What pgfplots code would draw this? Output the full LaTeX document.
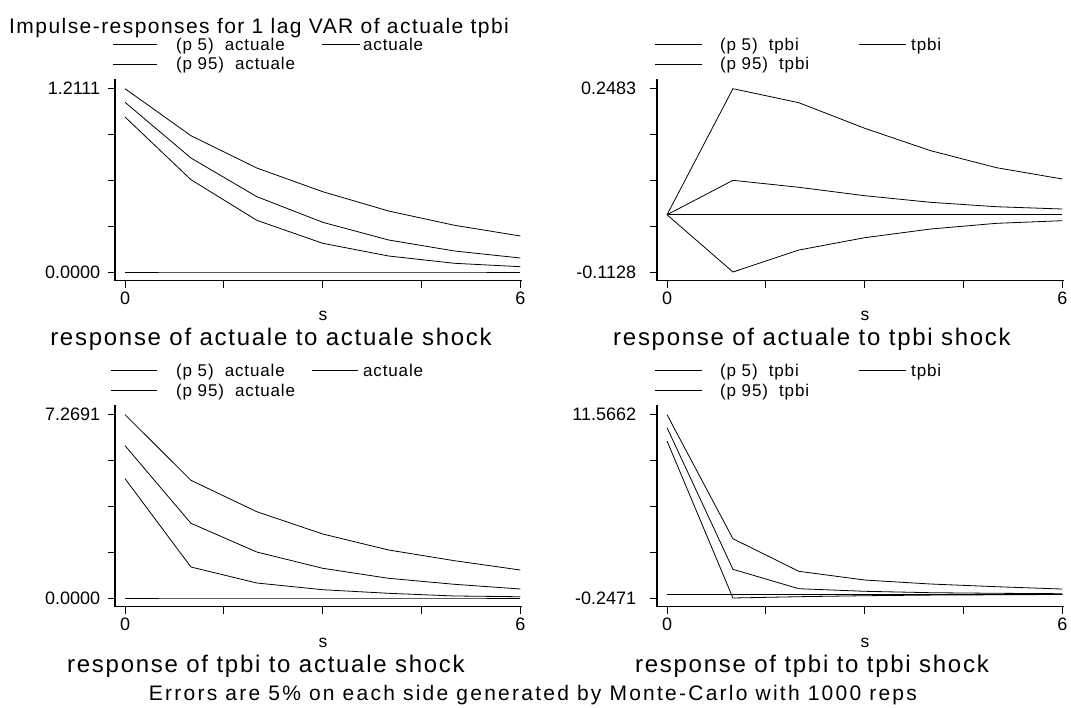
\documentclass[border=0pt]{standalone}
\usepackage{fontspec}
\setmainfont{Liberation Sans}
\newfontfamily\fA[LetterSpace=6.9]{Liberation Sans}
\newfontfamily\fB[LetterSpace=7.2]{Liberation Sans}
\newfontfamily\fC[LetterSpace=5]{Liberation Sans}
\newfontfamily\fD[LetterSpace=10.7]{Liberation Sans}
\usepackage{pgfplots}
\usepackage{pgfplotstable}
\pgfplotsset{compat=1.18}

\pgfplotstableread{
s lo mid hi z
0 1.024 1.121 1.2111 0
1 0.610 0.7532 0.9006 0
2 0.3414 0.4977 0.687 0
3 0.1896 0.3284 0.5306 0
4 0.1057 0.2114 0.403 0
5 0.0575 0.1388 0.3086 0
6 0.035 0.0925 0.2379 0
}\tabA
\pgfplotstableread{
s lo mid hi z
0 0 0 0 0
1 -0.1128 0.0678 0.2483 0
2 -0.0695 0.0541 0.2207 0
3 -0.0452 0.0375 0.1703 0
4 -0.0281 0.0245 0.1262 0
5 -0.0169 0.0158 0.0927 0
6 -0.0117 0.0113 0.0704 0
}\tabB
\pgfplotstableread{
s lo mid hi z
0 4.731 6.04 7.2691 0
1 1.229 2.962 4.668 0
2 0.595 1.824 3.422 0
3 0.329 1.178 2.538 0
4 0.186 0.781 1.904 0
5 0.08 0.543 1.479 0
6 0.05 0.357 1.110 0
}\tabC
\pgfplotstableread{
s lo mid hi z
0 9.871 10.728 11.5662 0
1 -0.2471 1.602 3.574 0
2 -0.163 0.352 1.473 0
3 -0.10 0.185 0.912 0
4 -0.06 0.095 0.654 0
5 -0.04 0.056 0.48 0
6 -0.02 0.03 0.33 0
}\tabD

\pgfplotsset{irf/.style={
  scale only axis, anchor=south west, width=407pt, height=201.4pt,
  axis x line*=bottom, axis y line*=left,
  axis line style={line width=1.1pt,-},
  every tick/.style={black, line width=0.9pt},
  tick align=outside, major tick length=7.3pt,
  xmin=-0.1525, xmax=6.025,
  xtick={0,1.5,3,4.5,6}, xticklabels={0,,,,6},
  tick label style={font=\fontsize{18}{18}\selectfont},
  yticklabel style={xshift=-4pt},
  clip=false,
  cycle list={{black, mark=none}},
  every axis plot post/.append style={black, line width=0.8pt, mark=none},
}}

% #1 key1 start, #2 row1 y, #3 name, #4 key2 start, #5 key2 end, #6 text2 x, #7 key1 end, #8 text1 x
\newcommand\myleg[8]{%
  \draw[line width=0.8pt] (#1pt,-#2pt) -- (#7pt,-#2pt);
  \draw[line width=0.8pt] (#1pt,-#2pt-19.5pt) -- (#7pt,-#2pt-19.5pt);
  \node[anchor=base west, inner sep=0pt] at (#8pt,-#2pt-6pt) {\fC\fontsize{17}{17}\selectfont (p 5)\ \ #3};
  \node[anchor=base west, inner sep=0pt] at (#8pt,-#2pt-25.5pt) {\fC\fontsize{17}{17}\selectfont (p 95)\ \ #3};
  \draw[line width=0.8pt] (#4pt,-#2pt) -- (#5pt,-#2pt);
  \node[anchor=base west, inner sep=0pt] at (#6pt,-#2pt-6pt) {\fC\fontsize{17}{17}\selectfont #3};
}

\begin{document}
\begin{tikzpicture}
\path[use as bounding box] (0pt,0pt) rectangle (1071pt,-708pt);

\node[anchor=base west, inner sep=0pt] at (9pt,-34pt) {\fA\fontsize{21}{21}\selectfont Impulse-responses for 1 lag VAR of actuale tpbi};

\myleg{113}{44.5}{actuale}{322}{360}{363}{157}{176}
\myleg{655}{44.5}{tpbi}{859}{906}{911}{702}{720}
\myleg{111}{370.7}{actuale}{312}{358}{363}{157}{176}
\myleg{655}{370.7}{tpbi}{859}{906}{911}{702}{720}

% panel 1
\begin{axis}[irf, at={(115pt,-280.7pt)},
  ymin=-0.0575, ymax=1.2732,
  ytick={0,0.302775,0.60555,0.908325,1.2111}, yticklabels={0.0000,,,,1.2111}]
\addplot table[x=s,y=lo]{\tabA};
\addplot table[x=s,y=mid]{\tabA};
\addplot table[x=s,y=hi]{\tabA};
\addplot table[x=s,y=z]{\tabA};
\end{axis}

% panel 2
\begin{axis}[irf, at={(657pt,-280.7pt)},
  ymin=-0.1299, ymax=0.2668,
  yticklabel style={xshift=-6pt},
  ytick={-0.1128,-0.022525,0.06775,0.158025,0.2483}, yticklabels={-0.1128,,,,0.2483}]
\addplot table[x=s,y=lo]{\tabB};
\addplot table[x=s,y=mid]{\tabB};
\addplot table[x=s,y=hi]{\tabB};
\addplot table[x=s,y=z]{\tabB};
\end{axis}

% panel 3
\begin{axis}[irf, at={(115pt,-606.7pt)},
  ymin=-0.345, ymax=7.642,
  ytick={0,1.817275,3.63455,5.451825,7.2691}, yticklabels={0.0000,,,,7.2691}]
\addplot table[x=s,y=lo]{\tabC};
\addplot table[x=s,y=mid]{\tabC};
\addplot table[x=s,y=hi]{\tabC};
\addplot table[x=s,y=z]{\tabC};
\end{axis}

% panel 4
\begin{axis}[irf, at={(657pt,-606.7pt)},
  ymin=-0.8078, ymax=12.172,
  yticklabel style={xshift=-6pt},
  ytick={-0.2471,2.706225,5.65955,8.612875,11.5662}, yticklabels={-0.2471,,,,11.5662}]
\addplot table[x=s,y=lo]{\tabD};
\addplot table[x=s,y=mid]{\tabD};
\addplot table[x=s,y=hi]{\tabD};
\addplot table[x=s,y=z]{\tabD};
\end{axis}

\foreach \xx/\yy in {323/321, 865/321, 323/647, 865/647}
  \node[anchor=base, inner sep=0pt] at (\xx pt,-\yy pt) {\fontsize{17.5}{17.5}\selectfont s};

\node[anchor=base, inner sep=0pt] at (271pt,-346pt) {\fB\fontsize{24}{24}\selectfont response of actuale to actuale shock};
\node[anchor=base, inner sep=0pt] at (812pt,-346pt) {\fB\fontsize{24}{24}\selectfont response of actuale to tpbi shock};
\node[anchor=base, inner sep=0pt] at (266pt,-672pt) {\fB\fontsize{24}{24}\selectfont response of tpbi to actuale shock};
\node[anchor=base, inner sep=0pt] at (812pt,-672pt) {\fB\fontsize{24}{24}\selectfont response of tpbi to tpbi shock};

\node[anchor=base, inner sep=0pt] at (533pt,-700pt) {\fD\fontsize{21}{21}\selectfont Errors are 5\% on each side generated by Monte-Carlo with 1000 reps};
\end{tikzpicture}
\end{document}
